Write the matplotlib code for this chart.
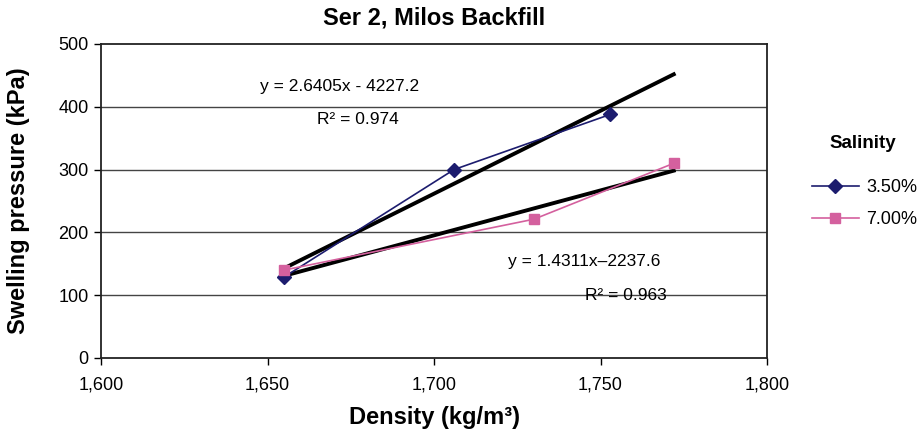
import matplotlib
matplotlib.use("Agg")
import matplotlib.pyplot as plt
import numpy as np

plt.rcParams['font.family'] = ['Liberation Sans', 'DejaVu Sans']

# data
density_35 = [1655, 1706, 1753]
pressure_35 = [129, 300, 388]
density_70 = [1655, 1730, 1772]
pressure_70 = [140, 221, 310]

# linear trendlines (slope, intercept) and the x span they cover
fit_35 = (2.6405, -4227.2)
fit_70 = (1.4311, -2237.6)
trend_x = [1655, 1772]

labels = ['3.50%', '7.00%']
x_ticks = [1600, 1650, 1700, 1750, 1800]
y_ticks = [0, 100, 200, 300, 400, 500]

blue = '#1c1c6e'
pink = '#d4609e'

fig = plt.figure(figsize=(9.22, 4.37), dpi=100)
ax = fig.add_axes([101 / 922, 1 - 358 / 437, 666 / 922, 314 / 437])

for y in y_ticks[1:-1]:
    ax.axhline(y, color='#444444', lw=1.0, zorder=0)

ax.plot(density_35, pressure_35, color=blue, lw=1.2, marker='D', ms=7,
        label=labels[0], zorder=3)
ax.plot(density_70, pressure_70, color=pink, lw=1.2, marker='s', ms=7,
        label=labels[1], zorder=3)

tx = np.array(trend_x, dtype=float)
ax.plot(tx, fit_35[0] * tx + fit_35[1], color='black', lw=2.8, zorder=2)
ax.plot(tx, fit_70[0] * tx + fit_70[1], color='black', lw=2.8, zorder=2)

fs = 12.5
ax.text(1671.5, 433, 'y = 2.6405x - 4227.2', ha='center', va='center', fontsize=fs)
ax.text(1677, 379, 'R\u00b2 = 0.974', ha='center', va='center', fontsize=fs)
ax.text(1745, 153, 'y = 1.4311x\u20132237.6', ha='center', va='center', fontsize=fs)
ax.text(1757.7, 100, 'R\u00b2 = 0.963', ha='center', va='center', fontsize=fs)

ax.set_xlim(1600, 1800)
ax.set_ylim(0, 500)
ax.set_xticks(x_ticks)
ax.set_xticklabels([f'{v:,}' for v in x_ticks])
ax.set_yticks(y_ticks)
ax.tick_params(direction='out', length=5, width=1, labelsize=13)
ax.tick_params(axis='x', pad=8)
ax.tick_params(axis='y', pad=4)
for s in ax.spines.values():
    s.set_linewidth(1.3)
    s.set_color('#222222')

ax.set_title('Ser 2, Milos Backfill', fontsize=17, fontweight='bold', pad=14)
ax.set_xlabel('Density (kg/m\u00b3)', fontsize=17, fontweight='bold', labelpad=9)
ax.set_ylabel('Swelling pressure (kPa)', fontsize=17, fontweight='bold', labelpad=20)

leg = ax.legend(loc='upper left', bbox_to_anchor=(812 / 922, 1 - 179 / 437),
                bbox_transform=fig.transFigure, frameon=False, fontsize=13,
                handlelength=2.6, handletextpad=0.4, labelspacing=0.85,
                borderaxespad=0, borderpad=0)
fig.text(863 / 922, 1 - 143 / 437, 'Salinity', ha='center', va='center',
         fontsize=13.5, fontweight='bold')

fig.savefig('out.png', dpi=100)
